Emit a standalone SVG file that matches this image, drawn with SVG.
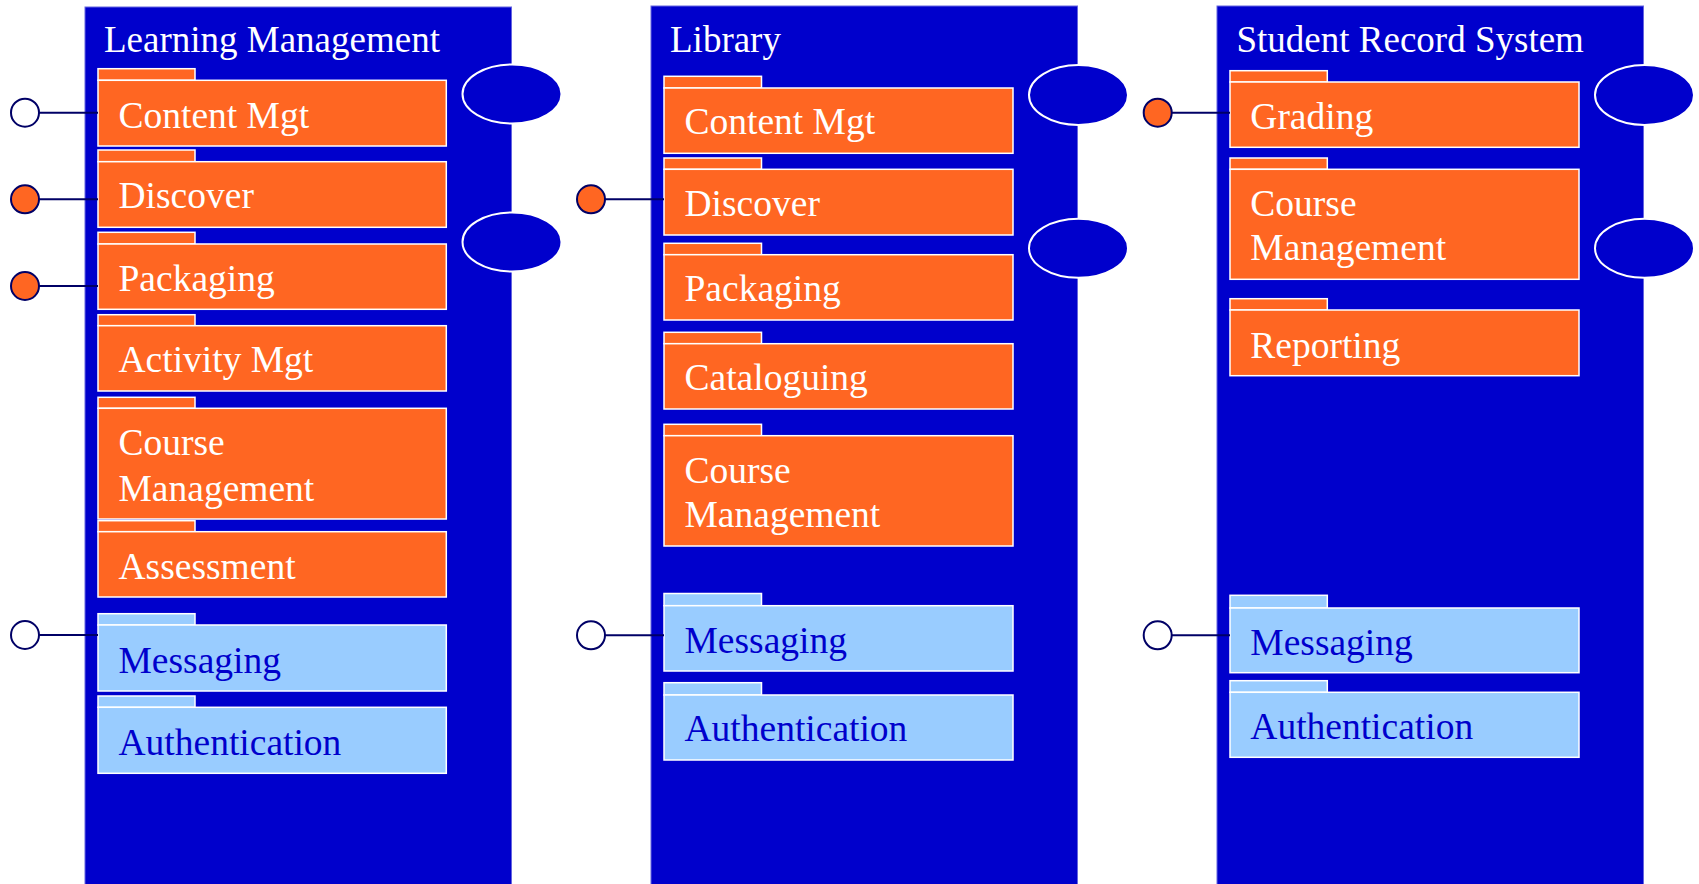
<svg xmlns="http://www.w3.org/2000/svg" width="1699" height="884" viewBox="0 0 1699 884">
<style>
.panel{fill:#0000CC;stroke:#6666E0;stroke-width:1}
.title{font-family:"Liberation Serif","Times New Roman",serif;font-size:37px;fill:#FFFFFF}
.obox{fill:#FF6622;stroke:#FFFFFF;stroke-width:1.5}
.lbox{fill:#99CCFF;stroke:#FFFFFF;stroke-width:1.5}
.otxt{font-family:"Liberation Serif","Times New Roman",serif;font-size:37.5px;fill:#FFFFFF}
.ltxt{font-family:"Liberation Serif","Times New Roman",serif;font-size:37.5px;fill:#0000CC}
.port{fill:#0000CC;stroke:#FFFFFF;stroke-width:2}
.conn{stroke:#000066;stroke-width:2;fill:none}
.ifo{fill:#FF6622;stroke:#000066;stroke-width:2}
.ifw{fill:#FFFFFF;stroke:#000066;stroke-width:2}
</style>

<!-- Panels -->
<g id="panel-learning-management">
<rect class="panel" x="85" y="7" width="426.5" height="882"/>
<text class="title" x="104" y="52">Learning Management</text>
</g>
<g id="panel-library">
<rect class="panel" x="651" y="6" width="426.5" height="882"/>
<text class="title" x="670" y="52">Library</text>
</g>
<g id="panel-student-record-system">
<rect class="panel" x="1217" y="6" width="426.5" height="882"/>
<text class="title" x="1236.5" y="52">Student Record System</text>
</g>

<!-- Learning Management packages -->
<g id="lm-content-mgt">
<rect class="obox" x="98" y="68.7" width="97" height="11.6"/>
<rect class="obox" x="98" y="80.3" width="348.3" height="65.7"/>
<text class="otxt" x="118.5" y="127.5">Content Mgt</text>
</g>
<g id="lm-discover">
<rect class="obox" x="98" y="150" width="97" height="11.7"/>
<rect class="obox" x="98" y="161.7" width="348.3" height="65.6"/>
<text class="otxt" x="118.5" y="208">Discover</text>
</g>
<g id="lm-packaging">
<rect class="obox" x="98" y="232.3" width="97" height="11.7"/>
<rect class="obox" x="98" y="244" width="348.3" height="65.3"/>
<text class="otxt" x="118.5" y="291">Packaging</text>
</g>
<g id="lm-activity-mgt">
<rect class="obox" x="98" y="314.7" width="97" height="11"/>
<rect class="obox" x="98" y="325.7" width="348.3" height="65.3"/>
<text class="otxt" x="118.5" y="372">Activity Mgt</text>
</g>
<g id="lm-course-management">
<rect class="obox" x="98" y="397.3" width="97" height="11"/>
<rect class="obox" x="98" y="408.3" width="348.3" height="110.7"/>
<text class="otxt" x="118.5" y="455">Course</text>
<text class="otxt" x="118.5" y="501">Management</text>
</g>
<g id="lm-assessment">
<rect class="obox" x="98" y="520.7" width="97" height="11"/>
<rect class="obox" x="98" y="531.7" width="348.3" height="65.3"/>
<text class="otxt" x="118.5" y="578.5">Assessment</text>
</g>
<g id="lm-messaging">
<rect class="lbox" x="98" y="613.7" width="97" height="11.3"/>
<rect class="lbox" x="98" y="625" width="348.3" height="66"/>
<text class="ltxt" x="118.5" y="672.5">Messaging</text>
</g>
<g id="lm-authentication">
<rect class="lbox" x="98" y="696" width="97" height="11.3"/>
<rect class="lbox" x="98" y="707.3" width="348.3" height="66"/>
<text class="ltxt" x="118.5" y="755">Authentication</text>
</g>

<!-- Library packages -->
<g id="lib-content-mgt">
<rect class="obox" x="664" y="76.3" width="97.5" height="11.7"/>
<rect class="obox" x="664" y="88" width="349" height="65.3"/>
<text class="otxt" x="684.5" y="134">Content Mgt</text>
</g>
<g id="lib-discover">
<rect class="obox" x="664" y="158" width="97.5" height="11.3"/>
<rect class="obox" x="664" y="169.3" width="349" height="65.7"/>
<text class="otxt" x="684.5" y="216">Discover</text>
</g>
<g id="lib-packaging">
<rect class="obox" x="664" y="243.3" width="97.5" height="11.4"/>
<rect class="obox" x="664" y="254.7" width="349" height="65.3"/>
<text class="otxt" x="684.5" y="301">Packaging</text>
</g>
<g id="lib-cataloguing">
<rect class="obox" x="664" y="332.3" width="97.5" height="11.4"/>
<rect class="obox" x="664" y="343.7" width="349" height="65.3"/>
<text class="otxt" x="684.5" y="390">Cataloguing</text>
</g>
<g id="lib-course-management">
<rect class="obox" x="664" y="424.3" width="97.5" height="11.4"/>
<rect class="obox" x="664" y="435.7" width="349" height="110.3"/>
<text class="otxt" x="684.5" y="482.5">Course</text>
<text class="otxt" x="684.5" y="527">Management</text>
</g>
<g id="lib-messaging">
<rect class="lbox" x="664" y="593.5" width="97.5" height="12.2"/>
<rect class="lbox" x="664" y="605.7" width="349" height="65.3"/>
<text class="ltxt" x="684.5" y="652.5">Messaging</text>
</g>
<g id="lib-authentication">
<rect class="lbox" x="664" y="682.7" width="97.5" height="12.3"/>
<rect class="lbox" x="664" y="695" width="349" height="65"/>
<text class="ltxt" x="684.5" y="741">Authentication</text>
</g>

<!-- Student Record System packages -->
<g id="srs-grading">
<rect class="obox" x="1230" y="70.7" width="97.3" height="11.3"/>
<rect class="obox" x="1230" y="82" width="349" height="65.3"/>
<text class="otxt" x="1250.3" y="128.5">Grading</text>
</g>
<g id="srs-course-management">
<rect class="obox" x="1230" y="158" width="97.3" height="11.3"/>
<rect class="obox" x="1230" y="169.3" width="349" height="110"/>
<text class="otxt" x="1250.3" y="216">Course</text>
<text class="otxt" x="1250.3" y="260">Management</text>
</g>
<g id="srs-reporting">
<rect class="obox" x="1230" y="298.7" width="97.3" height="11.3"/>
<rect class="obox" x="1230" y="310" width="349" height="65.7"/>
<text class="otxt" x="1250.3" y="357.5">Reporting</text>
</g>
<g id="srs-messaging">
<rect class="lbox" x="1230" y="595.3" width="97.3" height="12.7"/>
<rect class="lbox" x="1230" y="608" width="349" height="64.7"/>
<text class="ltxt" x="1250.3" y="655">Messaging</text>
</g>
<g id="srs-authentication">
<rect class="lbox" x="1230" y="680.7" width="97.3" height="11.6"/>
<rect class="lbox" x="1230" y="692.3" width="349" height="65"/>
<text class="ltxt" x="1250.3" y="739">Authentication</text>
</g>

<!-- Ports on right edges -->
<g id="lm-port-1"><ellipse class="port" cx="512" cy="94" rx="49.5" ry="29.5"/></g>
<g id="lm-port-2"><ellipse class="port" cx="512" cy="242" rx="49.5" ry="29.5"/></g>
<g id="lib-port-1"><ellipse class="port" cx="1078.5" cy="95" rx="49.5" ry="30"/></g>
<g id="lib-port-2"><ellipse class="port" cx="1078.5" cy="248.3" rx="49.5" ry="29.5"/></g>
<g id="srs-port-1"><ellipse class="port" cx="1644.5" cy="95" rx="49.5" ry="30"/></g>
<g id="srs-port-2"><ellipse class="port" cx="1644.5" cy="248.3" rx="49.5" ry="29.5"/></g>

<!-- Connectors -->
<g id="connectors">
<line class="conn" x1="39" y1="112.7" x2="98" y2="112.7"/>
<line class="conn" x1="39" y1="199.3" x2="98" y2="199.3"/>
<line class="conn" x1="39" y1="286" x2="98" y2="286"/>
<line class="conn" x1="39" y1="635" x2="98" y2="635"/>
<line class="conn" x1="605" y1="199.3" x2="664" y2="199.3"/>
<line class="conn" x1="605" y1="635.3" x2="664" y2="635.3"/>
<line class="conn" x1="1172" y1="112.7" x2="1230" y2="112.7"/>
<line class="conn" x1="1172" y1="635.3" x2="1230" y2="635.3"/>
</g>

<!-- Interface lollipops -->
<g id="if-lm-content-mgt"><circle class="ifw" cx="25" cy="112.7" r="14"/></g>
<g id="if-lm-discover"><circle class="ifo" cx="25" cy="199.3" r="14"/></g>
<g id="if-lm-packaging"><circle class="ifo" cx="25" cy="286" r="14"/></g>
<g id="if-lm-messaging"><circle class="ifw" cx="25" cy="635" r="14"/></g>
<g id="if-lib-discover"><circle class="ifo" cx="591" cy="199.3" r="14"/></g>
<g id="if-lib-messaging"><circle class="ifw" cx="591" cy="635.3" r="14"/></g>
<g id="if-srs-grading"><circle class="ifo" cx="1157.7" cy="112.7" r="14"/></g>
<g id="if-srs-messaging"><circle class="ifw" cx="1157.7" cy="635.3" r="14"/></g>
</svg>
